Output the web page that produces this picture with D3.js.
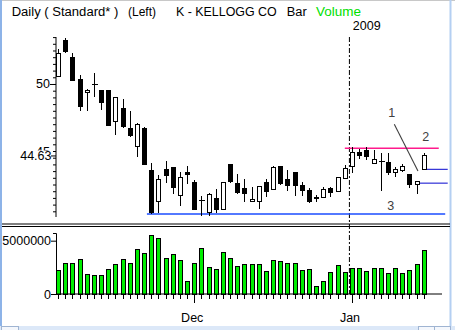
<!DOCTYPE html>
<html>
<head>
<meta charset="utf-8">
<script src="https://cdn.jsdelivr.net/npm/d3@7"></script>
<style>
  html, body { margin: 0; padding: 0; background: #fff; overflow: hidden; }
  svg { display: block; }
  text { font-family: "Liberation Sans", Arial, sans-serif; }
</style>
</head>
<body>
<script>
// Kellogg Co (K) daily bars, Nov 2008 - Jan 2009
const dates = [
  "2008-11-03","2008-11-04","2008-11-05","2008-11-06","2008-11-07",
  "2008-11-10","2008-11-11","2008-11-12","2008-11-13","2008-11-14",
  "2008-11-17","2008-11-18","2008-11-19","2008-11-20","2008-11-21",
  "2008-11-24","2008-11-25","2008-11-26","2008-11-28",
  "2008-12-01","2008-12-02","2008-12-03","2008-12-04","2008-12-05",
  "2008-12-08","2008-12-09","2008-12-10","2008-12-11","2008-12-12",
  "2008-12-15","2008-12-16","2008-12-17","2008-12-18","2008-12-19",
  "2008-12-22","2008-12-23","2008-12-24","2008-12-26",
  "2008-12-29","2008-12-30","2008-12-31",
  "2009-01-02","2009-01-05","2009-01-06","2009-01-07","2009-01-08","2009-01-09",
  "2009-01-12","2009-01-13","2009-01-14","2009-01-15","2009-01-16"
];
const opens = [
  50.54, 53.21, 51.99, 50.30, 49.33, 49.98, 49.48, 49.48, 47.19, 48.19,
  46.69, 45.32, 46.69, 43.58, 41.22, 43.63, 43.75, 41.66, 43.38, 42.63,
  41.29, 40.40, 41.42, 40.65, 43.96, 42.54, 42.22, 41.22, 41.22, 42.66,
  42.14, 43.88, 42.89, 43.41, 42.39, 42.04, 41.54, 41.54, 42.22, 41.96,
  42.96, 43.88, 44.87, 45.02, 44.03, 44.20, 44.16, 43.38, 43.58, 43.21,
  42.51, 43.63
];
const highs = [
  52.59, 53.41, 52.29, 50.67, 49.63, 50.84, 49.48, 49.50, 49.01, 48.88,
  48.01, 47.07, 46.81, 44.13, 43.21, 44.25, 43.83, 43.41, 43.88, 42.84,
  41.64, 41.84, 42.14, 42.71, 44.01, 43.28, 42.89, 42.34, 42.39, 42.91,
  43.88, 43.88, 43.58, 43.41, 42.71, 42.22, 41.72, 42.34, 42.34, 43.04,
  43.96, 45.32, 45.12, 45.32, 45.07, 44.83, 44.83, 43.78, 44.03, 43.21,
  42.71, 44.83
];
const lows = [
  50.52, 52.29, 50.20, 48.01, 48.01, 49.05, 48.06, 46.87, 46.19, 46.69,
  46.07, 44.53, 44.00, 40.28, 40.35, 42.63, 41.77, 40.90, 42.51, 40.60,
  40.15, 40.15, 40.40, 40.65, 42.63, 41.77, 41.17, 41.20, 40.65, 41.54,
  42.14, 42.46, 42.04, 41.66, 41.64, 41.14, 41.17, 41.54, 41.59, 41.96,
  42.96, 43.34, 44.38, 44.33, 44.03, 42.04, 43.21, 43.08, 43.46, 42.26,
  41.79, 43.63
];
const closes = [
  52.29, 52.41, 50.25, 48.31, 49.48, 49.98, 48.63, 46.94, 49.01, 46.81,
  46.19, 46.99, 44.01, 40.40, 42.89, 43.16, 42.26, 43.04, 43.26, 40.67,
  41.29, 41.72, 40.65, 42.63, 42.71, 41.92, 41.84, 41.39, 42.34, 41.96,
  43.78, 42.54, 42.41, 42.41, 42.04, 41.22, 41.42, 42.14, 41.89, 43.04,
  43.71, 44.87, 44.70, 44.57, 44.33, 44.20, 43.38, 43.63, 43.83, 42.51,
  42.71, 44.63
];
const volumes = [
  2250000, 2880000, 2880000, 3250000, 1840000, 1690000, 1690000, 2310000, 2810000, 3250000,
  2880000, 4190000, 3810000, 5530000, 5220000, 3340000, 3720000, 3160000, 1190000, 2880000,
  4280000, 2500000, 2310000, 3910000, 3340000, 2590000, 2810000, 2810000, 2720000, 2130000,
  3160000, 3060000, 2880000, 2880000, 2220000, 2310000, 720000, 1190000, 2030000, 2690000,
  2030000, 2410000, 2410000, 2130000, 2410000, 2410000, 1940000, 2410000, 1940000, 2220000,
  2810000, 4090000
];

// Axis ticks and labels
const priceLabelTicks = [50, 45];
const priceMinorTicks = d3.range(40.5, 53.51, 0.5);
const volumeTicks = [0, 5000000];
const monthStarts = ["2008-12-01", "2009-01-02"];
const monthLabels = ["Dec", "Jan"];
const yearStart = "2009-01-02";
const yearLabel = "2009";

// Drawn studies: resistance (2), support (3), trend line (1), body-level markers
const resistanceLevel = 45.2;
const resistanceSpan = [40.0, 53.1];
const supportLevel = 40.3;
const supportSpan = [12.4, 54.0];
const trendStart = [46.9, 47.0];
const trendEnd = [50.2, 43.5];
const markerLevels = [43.63, 42.6];
const markerStarts = [51.35, 50.2];
const markerEnd = 54.35;
const studyLabels = ["1", "2", "3"];
const studyLabelIdx = [46.54, 51.28, 46.4];
const studyLabelPrice = [47.84, 46.07, 40.9];

const W = 455, H = 330;
const svg = d3.select("body").append("svg").attr("width", W).attr("height", H);
svg.append("rect").attr("width", W).attr("height", H).attr("fill", "#fff");

const x = d3.scaleLinear().domain([0, dates.length - 1]).range([58, 423.7]);
const y = d3.scaleLinear().domain([40.075, 53.507]).range([217, 37]);
const yv = d3.scaleLinear().domain([0, 5720000]).range([294, 233]);
const idx = d => dates.indexOf(d);
const axisLeftX = 56;
const FONT = "12.5px";

// Window frame
svg.append("line").attr("x1", 0).attr("x2", W).attr("y1", 0.5).attr("y2", 0.5).attr("stroke", "#c8c8c8");
svg.append("rect").attr("x", 0).attr("y", 0).attr("width", 2).attr("height", H).attr("fill", "#8db3e8");
svg.append("rect").attr("x", 449.5).attr("y", 0).attr("width", 2).attr("height", H).attr("fill", "#b4cff2");
svg.append("rect").attr("x", 0).attr("y", 326).attr("width", W).attr("height", 4).attr("fill", "#dce8f8");
[[1, 17], [418, 16], [434, 16]].forEach(([bx, bw]) =>
  svg.append("rect").attr("x", bx + 0.5).attr("y", 326.5).attr("width", bw).attr("height", 6)
    .attr("fill", "#f4f7fc").attr("stroke", "#9fb4d2"));

// Panel separator (double rule)
[224, 226.5].forEach(yy =>
  svg.append("line").attr("x1", 2).attr("x2", 450).attr("y1", yy).attr("y2", yy)
    .attr("stroke", "#000").attr("stroke-width", 1.2));

// Header
const header = [
  { t: "Daily ( Standard* )", x: 11.7, w: 106.6, c: "#000" },
  { t: "(Left)", x: 128, w: 28, c: "#000" },
  { t: "K - KELLOGG CO", x: 176, w: 100.7, c: "#000" },
  { t: "Bar", x: 286.7, w: 20, c: "#000" },
  { t: "Volume", x: 316, w: 45, c: "#00e000" }
];
svg.selectAll("text.hdr").data(header).join("text").attr("class", "hdr")
  .attr("x", d => d.x).attr("y", 15.5).attr("fill", d => d.c)
  .attr("textLength", d => d.w).attr("lengthAdjust", "spacingAndGlyphs")
  .style("font-size", "12.5px").text(d => d.t);

// Year separator
const yearX = (x(idx(yearStart)) + x(idx(yearStart) - 1)) / 2 + 1;
svg.append("line").attr("x1", yearX).attr("x2", yearX).attr("y1", 37).attr("y2", 294)
  .attr("stroke", "#000").attr("stroke-dasharray", "5,2,2,2");
svg.append("text").attr("x", x(idx(yearStart)) + 0.8).attr("y", 29.5)
  .style("font-size", FONT).attr("fill", "#000").text(yearLabel);

// Price axis
const gp = svg.append("g").attr("transform", `translate(${axisLeftX},0)`);
gp.call(d3.axisLeft(y).tickValues(priceMinorTicks).tickSize(3).tickSizeOuter(0).tickFormat(""));
gp.call(g => g.select(".domain").remove());
gp.append("line").attr("x1", 0).attr("x2", 0).attr("y1", 37).attr("y2", 217).attr("stroke", "#000");
const gpl = svg.append("g").attr("transform", `translate(${axisLeftX},0)`);
gpl.call(d3.axisLeft(y).tickValues(priceLabelTicks).tickSize(6).tickPadding(0).tickFormat(d3.format("d")));
gpl.select(".domain").remove();
gpl.selectAll("text").style("font-size", FONT).style("font-family", "Liberation Sans, Arial, sans-serif").attr("fill", "#000");

// Last close label drawn over the scale
const lastClose = closes[closes.length - 1];
svg.append("rect").attr("x", 18).attr("y", y(lastClose) - 5.5).attr("width", 35).attr("height", 12).attr("fill", "#fff");
svg.append("line").attr("x1", 51).attr("x2", axisLeftX).attr("y1", y(lastClose)).attr("y2", y(lastClose)).attr("stroke", "#000");
svg.append("text").attr("x", 51.5).attr("y", y(lastClose)).attr("dy", "0.36em")
  .attr("text-anchor", "end").style("font-size", FONT).attr("fill", "#000").text(lastClose.toFixed(2));

// Studies
svg.append("line").attr("x1", x(supportSpan[0])).attr("x2", x(supportSpan[1]))
  .attr("y1", y(supportLevel)).attr("y2", y(supportLevel)).attr("stroke", "#1a4cff").attr("stroke-width", 1.4);
svg.append("line").attr("x1", x(resistanceSpan[0])).attr("x2", x(resistanceSpan[1]))
  .attr("y1", y(resistanceLevel)).attr("y2", y(resistanceLevel)).attr("stroke", "#ff1a8c").attr("stroke-width", 1.4);
markerLevels.forEach((lv, k) =>
  svg.append("line").attr("x1", x(markerStarts[k])).attr("x2", x(markerEnd))
    .attr("y1", y(lv)).attr("y2", y(lv)).attr("stroke", "#2e2ed6").attr("stroke-width", 1.2));
svg.append("line").attr("x1", x(trendStart[0])).attr("y1", y(trendStart[1]))
  .attr("x2", x(trendEnd[0])).attr("y2", y(trendEnd[1])).attr("stroke", "#404040").attr("stroke-width", 1.1);
svg.selectAll("text.study").data(studyLabels).join("text").attr("class", "study")
  .attr("x", (d, k) => x(studyLabelIdx[k])).attr("y", (d, k) => y(studyLabelPrice[k])).attr("dy", "0.36em")
  .attr("text-anchor", "middle").style("font-size", FONT).attr("fill", "#404040").text(d => d);

// Candles
const candles = svg.append("g").attr("shape-rendering", "crispEdges");
dates.forEach((d, i) => {
  const cx = Math.round(x(i)) + 0.5;
  candles.append("line").attr("x1", cx).attr("x2", cx)
    .attr("y1", y(highs[i])).attr("y2", y(lows[i])).attr("stroke", "#000");
  const top = y(Math.max(opens[i], closes[i]));
  const bot = y(Math.min(opens[i], closes[i]));
  if (bot - top < 1) {
    candles.append("line").attr("x1", cx - 3).attr("x2", cx + 3)
      .attr("y1", top).attr("y2", top).attr("stroke", "#000");
  } else {
    candles.append("rect").attr("x", cx - 2).attr("y", top).attr("width", 4).attr("height", bot - top)
      .attr("fill", closes[i] >= opens[i] ? "#fff" : "#000").attr("stroke", "#000");
  }
});

// Volume axis
const gv = svg.append("g").attr("transform", `translate(${axisLeftX},0)`);
gv.call(d3.axisLeft(yv).tickValues(volumeTicks).tickSize(5).tickSizeOuter(3).tickPadding(0).tickFormat(d3.format("d")));
gv.selectAll("text").style("font-size", FONT).style("font-family", "Liberation Sans, Arial, sans-serif").attr("fill", "#000");

// Volume bars
svg.append("g").attr("shape-rendering", "crispEdges").selectAll("rect").data(volumes).join("rect")
  .attr("x", (v, i) => Math.round(x(i)) - 1.5).attr("y", v => yv(v))
  .attr("width", 4).attr("height", v => yv(0) - yv(v))
  .attr("fill", "#00ee00").attr("stroke", "#000");

// Time axis under volume
svg.append("line").attr("x1", axisLeftX).attr("x2", 442).attr("y1", yv(0)).attr("y2", yv(0)).attr("stroke", "#000");
const gt = svg.append("g").attr("transform", `translate(0,${yv(0)})`).attr("shape-rendering", "crispEdges");
gt.call(d3.axisBottom(x).tickValues(d3.range(dates.length)).tickSize(5).tickSizeOuter(0).tickFormat(""));
gt.select(".domain").remove();
const gm = svg.append("g").attr("transform", `translate(0,${yv(0)})`).attr("shape-rendering", "crispEdges");
gm.call(d3.axisBottom(x).tickValues(monthStarts.map(idx)).tickSize(9).tickSizeOuter(0).tickFormat(""));
gm.select(".domain").remove();
svg.selectAll("text.month").data(monthStarts).join("text").attr("class", "month")
  .attr("x", d => x(idx(d)) - 2).attr("y", 322).attr("text-anchor", "middle")
  .style("font-size", FONT).attr("fill", "#000").text((d, k) => monthLabels[k]);
</script>
</body>
</html>
